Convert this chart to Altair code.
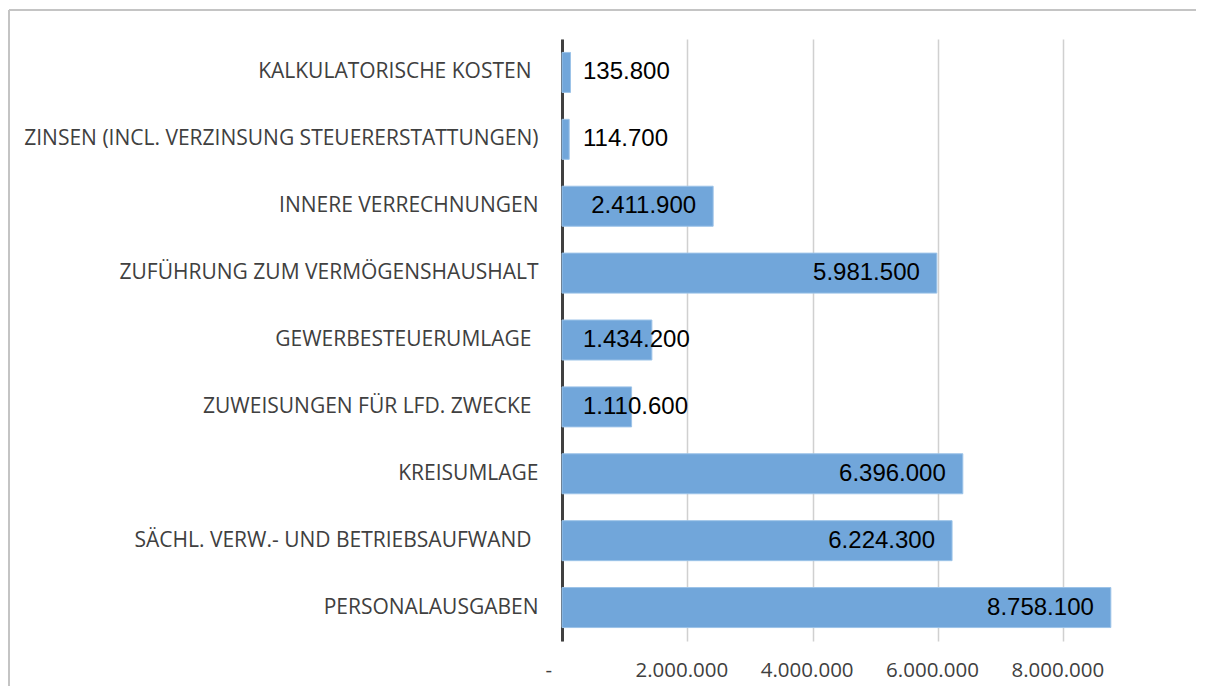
import altair as alt
import pandas as pd

categories = [
    "KALKULATORISCHE KOSTEN",
    "ZINSEN (INCL. VERZINSUNG STEUERERSTATTUNGEN)",
    "INNERE VERRECHNUNGEN",
    "ZUFÜHRUNG ZUM VERMÖGENSHAUSHALT",
    "GEWERBESTEUERUMLAGE",
    "ZUWEISUNGEN FÜR LFD. ZWECKE",
    "KREISUMLAGE",
    "SÄCHL. VERW.- UND BETRIEBSAUFWAND",
    "PERSONALAUSGABEN",
]
values = [135800, 114700, 2411900, 5981500, 1434200, 1110600, 6396000, 6224300, 8758100]
x_ticks = [0, 2000000, 4000000, 6000000, 8000000]
# categories whose source labels carry a trailing blank
trailing_blank = ["KALKULATORISCHE KOSTEN", "GEWERBESTEUERUMLAGE",
                  "ZUWEISUNGEN FÜR LFD. ZWECKE", "SÄCHL. VERW.- UND BETRIEBSAUFWAND"]

df = pd.DataFrame({"cat": categories, "value": values})
df["label"] = [f"{v:,}".replace(",", ".") for v in values]
df["inside"] = [v >= 2000000 for v in values]

LABEL_FONT = "Open Sans"
GRAY = "#404040"
blank_test = "indexof([" + ",".join(f"'{c}'" for c in trailing_blank) + "], datum.value) >= 0"

y_enc = alt.Y("cat:N", sort=None, title=None,
              axis=alt.Axis(labelFont=LABEL_FONT, labelFontSize=21, labelColor=GRAY,
                            labelPadding={"condition": {"test": blank_test, "value": 31}, "value": 24},
                            ticks=False, domain=True,
                            domainColor=GRAY, domainWidth=3, labelLimit=600),
              scale=alt.Scale(paddingInner=0.4, paddingOuter=0.2))

x_scale = alt.Scale(domain=[0, 9000000], nice=False)

bars = alt.Chart(df).mark_bar(color="#71a6da", size=40, stroke="#9cc3e8", strokeWidth=1).encode(
    x=alt.X("value:Q", scale=x_scale, title=None,
            axis=alt.Axis(values=x_ticks, grid=True, gridColor="#d0d0d0", gridWidth=1.5,
                          ticks=False, domain=False, labelFont=LABEL_FONT, labelFontSize=20.5,
                          labelColor=GRAY, labelPadding=19,
                          labelOffset={"condition": {"test": "datum.value == 0", "value": -17}, "value": -6},
                          labelExpr="datum.value == 0 ? '-' : replace(format(datum.value, ',.0f'), regexp(',', 'g'), '.')")),
    y=y_enc,
)

text_in = alt.Chart(df).transform_filter("datum.inside").mark_text(
    align="right", dx=-17, font="Liberation Sans", fontSize=24, color="black", baseline="middle"
).encode(x=alt.X("value:Q", scale=x_scale), y=alt.Y("cat:N", sort=None), text="label:N")

text_out = alt.Chart(df).transform_filter("!datum.inside").mark_text(
    align="left", dx=21, font="Liberation Sans", fontSize=24, color="black", baseline="middle"
).encode(x=alt.datum(0, scale=x_scale), y=alt.Y("cat:N", sort=None), text="label:N")

frame_top = alt.Chart(df).mark_rule(color="#c4c4c4", strokeWidth=2).encode(
    x=alt.value(-553), x2=alt.value(700), y=alt.value(-29))
frame_left = alt.Chart(df).mark_rule(color="#c4c4c4", strokeWidth=2).encode(
    x=alt.value(-553), y=alt.value(-29), y2=alt.value(700))

chart = alt.layer(bars, text_in, text_out, frame_top, frame_left).properties(
    width=564, height=602,
    padding={"left": 554, "top": 31, "right": 70, "bottom": 45},
    autosize=alt.AutoSizeParams(type="none"),
).configure(background="white").configure_view(stroke=None)

chart.save("out.html", embed_options={"renderer": "svg", "actions": False})
